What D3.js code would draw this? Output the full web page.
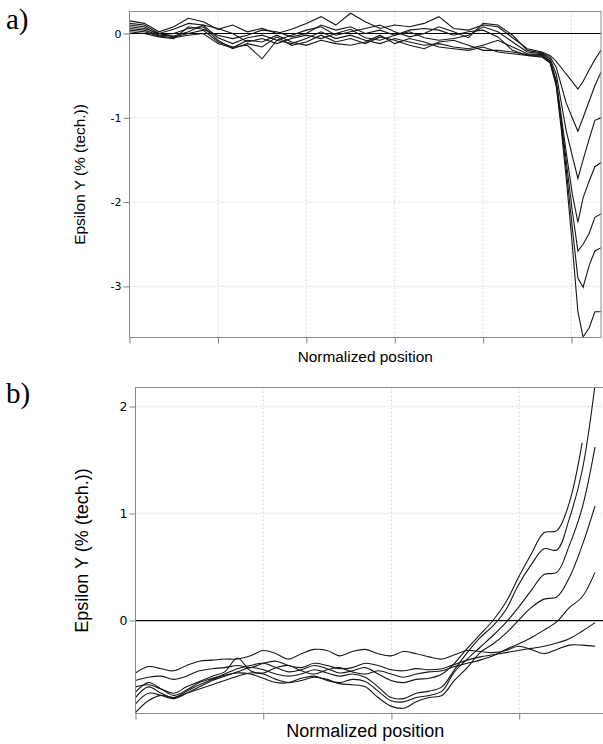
<!DOCTYPE html>
<meta charset="utf-8">
<style>
body { margin: 0; background: #fff; }
svg { display: block; }
.axis text { font-family: "DejaVu Sans", sans-serif; fill: #000; }
.axis line { stroke: #808080; }
.axis path { display: none; }
.grid line { stroke: #d8d8d8; stroke-dasharray: 2,2; }
.frame { fill: none; stroke: #8a8a8a; }
.zero { stroke: #000; stroke-width: 1.2px; }
.curve { fill: none; stroke: #161616; stroke-width: 1.1px; }
.label { font-family: "Liberation Sans", Arial, sans-serif; fill: #000; text-anchor: middle; }
.tag { font-family: "Liberation Serif", "Times New Roman", serif; font-size: 29px; fill: #000; }
</style>

<svg width="603" height="744"></svg>
<script src="https://d3js.org/d3.v7.min.js"></script>

<script>
// ---- panel a data ----
// sample positions: coarse along the flat part, finer where the curves drop
var posA = [0, 0.03125, 0.0625, 0.09375, 0.125, 0.15625, 0.1875, 0.21875, 0.25, 0.28125,
            0.3125, 0.34375, 0.375, 0.40625, 0.4375, 0.46875, 0.5, 0.53125, 0.5625, 0.59375,
            0.625, 0.65625, 0.6875, 0.71875, 0.75, 0.78125, 0.8125, 0.84375, 0.875,
            0.892, 0.905, 0.915, 0.926, 0.939, 0.951, 0.962, 0.975, 0.987, 1];
var ticksXA = [0, 0.1875, 0.375, 0.5625, 0.75, 0.9375];
var ticksYA = [0, -1, -2, -3];

var a1 = [0.15, 0.12, 0.02, 0.08, 0.18, 0.14, 0.05, 0.10, 0.02, 0.06, 0.00, 0.05, 0.12, 0.20, 0.10, 0.24, 0.14, 0.06, 0.10, 0.08, 0.12, 0.20, 0.06, 0.04, 0.10, 0.08, -0.05, -0.18, -0.22,
          -0.26, -0.33, -0.40, -0.48, -0.57, -0.66, -0.57, -0.43, -0.31, -0.20];
var a2 = [0.12, 0.10, 0.00, 0.05, 0.12, 0.10, -0.05, -0.12, -0.05, -0.02, -0.08, -0.02, 0.04, 0.08, -0.02, 0.02, 0.06, 0.10, 0.02, -0.04, 0.00, 0.08, 0.02, -0.05, 0.12, 0.10, -0.02, -0.20, -0.23,
          -0.28, -0.40, -0.60, -0.82, -1.00, -1.16, -1.00, -0.80, -0.62, -0.46];
var a3 = [0.10, 0.08, -0.02, -0.03, 0.02, 0.10, 0.06, 0.00, -0.10, -0.06, -0.12, -0.06, -0.02, -0.06, 0.00, 0.05, -0.05, -0.08, -0.02, 0.02, -0.05, -0.08, -0.06, -0.02, 0.08, 0.02, -0.10, -0.22, -0.24,
          -0.30, -0.48, -0.80, -1.15, -1.45, -1.72, -1.50, -1.25, -1.03, -1.00];
var a4 = [0.08, 0.06, 0.00, -0.04, 0.00, 0.04, -0.10, -0.16, -0.14, -0.30, -0.08, -0.12, -0.06, 0.02, -0.06, -0.02, -0.08, -0.12, -0.06, -0.10, -0.14, -0.12, -0.16, -0.18, -0.14, -0.08, -0.16, -0.24, -0.25,
          -0.32, -0.55, -0.95, -1.40, -1.90, -2.24, -1.95, -1.75, -1.58, -1.53];
var a5 = [0.06, 0.04, -0.02, 0.00, 0.06, 0.08, -0.08, -0.18, -0.12, -0.16, -0.04, -0.14, -0.10, -0.02, -0.10, -0.06, -0.12, -0.04, -0.08, -0.14, -0.18, -0.10, -0.08, -0.14, -0.20, -0.20, -0.22, -0.25, -0.26,
          -0.33, -0.58, -1.00, -1.50, -2.10, -2.58, -2.50, -2.37, -2.18, -2.14];
var a6 = [0.04, 0.02, -0.03, -0.05, -0.02, 0.00, -0.12, -0.17, -0.08, -0.10, -0.02, -0.10, -0.14, -0.08, -0.12, -0.14, -0.10, -0.02, -0.12, -0.06, -0.10, -0.16, -0.18, -0.20, -0.16, -0.22, -0.24, -0.26, -0.27,
          -0.34, -0.60, -1.05, -1.60, -2.30, -2.90, -3.01, -2.75, -2.58, -2.54];
var a7 = [0.02, 0.00, -0.04, -0.06, 0.08, 0.05, -0.02, -0.06, -0.02, 0.04, 0.02, -0.04, 0.00, 0.10, 0.04, 0.08, 0.00, 0.04, -0.02, 0.04, 0.06, 0.04, -0.02, 0.02, 0.04, -0.04, -0.20, -0.26, -0.28,
          -0.35, -0.62, -1.10, -1.70, -2.50, -3.30, -3.60, -3.49, -3.30, -3.30];

// ---- panel b data ----
var posB = [0, 0.028, 0.056, 0.083, 0.111, 0.139, 0.167, 0.194, 0.222, 0.25, 0.278, 0.306, 0.333,
            0.361, 0.389, 0.417, 0.444, 0.472, 0.5, 0.528, 0.556, 0.583, 0.611, 0.639, 0.667,
            0.694, 0.722, 0.75, 0.778, 0.806, 0.833, 0.861, 0.889, 0.917, 0.944, 0.972, 1];
var ticksXB = [0, 0.278, 0.557, 0.835];
var ticksYB = [0, 1, 2];

var b1 = [-0.72, -0.62, -0.68, -0.72, -0.66, -0.60, -0.55, -0.50, -0.45, -0.42, -0.40, -0.44, -0.48, -0.46, -0.42, -0.45, -0.49, -0.47, -0.44, -0.50, -0.56, -0.58, -0.55, -0.54, -0.50, -0.40, -0.26, -0.13, 0.00, 0.17, 0.40, 0.62, 0.82, 0.84, 1.10, 1.66];
var b2 = [-0.78, -0.68, -0.70, -0.73, -0.68, -0.62, -0.56, -0.52, -0.48, -0.44, -0.46, -0.50, -0.52, -0.50, -0.46, -0.49, -0.52, -0.50, -0.53, -0.62, -0.72, -0.73, -0.68, -0.66, -0.62, -0.46, -0.30, -0.16, -0.05, 0.10, 0.33, 0.52, 0.67, 0.66, 0.95, 1.40, 2.20];
var b3 = [-0.67, -0.58, -0.64, -0.70, -0.65, -0.58, -0.54, -0.51, -0.49, -0.50, -0.54, -0.58, -0.58, -0.54, -0.52, -0.56, -0.58, -0.55, -0.57, -0.66, -0.75, -0.76, -0.72, -0.70, -0.66, -0.48, -0.36, -0.25, -0.14, -0.02, 0.12, 0.28, 0.43, 0.45, 0.70, 1.05, 1.62];
var b4 = [-0.86, -0.75, -0.70, -0.72, -0.68, -0.64, -0.60, -0.56, -0.52, -0.49, -0.50, -0.55, -0.58, -0.56, -0.53, -0.55, -0.59, -0.60, -0.62, -0.72, -0.80, -0.82, -0.76, -0.72, -0.70, -0.56, -0.44, -0.30, -0.22, -0.12, 0.00, 0.12, 0.20, 0.22, 0.40, 0.70, 1.07];
var b5 = [-0.62, -0.60, -0.64, -0.68, -0.62, -0.57, -0.52, -0.48, -0.35, -0.47, -0.49, -0.44, -0.42, -0.47, -0.50, -0.46, -0.44, -0.48, -0.50, -0.47, -0.50, -0.53, -0.50, -0.48, -0.47, -0.43, -0.40, -0.37, -0.33, -0.27, -0.22, -0.16, -0.09, -0.01, 0.12, 0.22, 0.45];
var b6 = [-0.56, -0.53, -0.52, -0.55, -0.52, -0.47, -0.45, -0.44, -0.42, -0.44, -0.40, -0.38, -0.42, -0.44, -0.40, -0.42, -0.45, -0.44, -0.40, -0.42, -0.46, -0.47, -0.45, -0.46, -0.45, -0.41, -0.37, -0.34, -0.32, -0.30, -0.28, -0.26, -0.24, -0.21, -0.17, -0.10, -0.02];
var b7 = [-0.49, -0.43, -0.45, -0.47, -0.42, -0.38, -0.37, -0.36, -0.36, -0.33, -0.28, -0.31, -0.36, -0.31, -0.27, -0.28, -0.33, -0.29, -0.27, -0.31, -0.33, -0.29, -0.31, -0.34, -0.36, -0.32, -0.28, -0.29, -0.30, -0.28, -0.24, -0.27, -0.31, -0.27, -0.23, -0.23, -0.24];

var svg = d3.select("svg");

function panel(p) {
  var x = d3.scaleLinear().domain([0, 1]).range([p.left, p.dataRight]),
      y = d3.scaleLinear().domain(p.yDomain).range([p.bottom, p.top]),
      right = x(p.xMax),
      g = svg.append("g");

  g.append("clipPath").attr("id", p.id + "clip")
    .append("rect")
      .attr("x", p.left).attr("y", p.top)
      .attr("width", right - p.left).attr("height", p.bottom - p.top);

  // dotted grid
  var grid = g.append("g").attr("class", "grid");
  grid.selectAll(".gx").data(p.ticksX.slice(1)).enter().append("line")
      .attr("x1", x).attr("x2", x).attr("y1", p.top).attr("y2", p.bottom);
  grid.selectAll(".gy").data(p.ticksY).enter().append("line")
      .attr("x1", p.left).attr("x2", right).attr("y1", y).attr("y2", y);

  g.append("g")
      .attr("class", "axis")
      .attr("transform", "translate(" + p.left + ",0)")
      .style("font-size", p.tickFont + "px")
      .call(d3.axisLeft(y).tickValues(p.ticksY).tickSize(6).tickPadding(2)
        .tickFormat(function(d) { return String(d); }));

  g.append("g")
      .attr("class", "axis")
      .attr("transform", "translate(0," + p.bottom + ")")
      .call(d3.axisBottom(x).tickValues(p.ticksX).tickSize(6).tickFormat(""));

  g.append("line")
      .attr("class", "zero")
      .attr("x1", p.left).attr("x2", right)
      .attr("y1", y(0)).attr("y2", y(0));

  var line = d3.line()
      .x(function(d) { return x(d[0]); })
      .y(function(d) { return y(d[1]); })
      .curve(p.curve);

  g.append("g")
      .attr("clip-path", "url(#" + p.id + "clip)")
    .selectAll(".curve")
      .data(p.series)
    .enter().append("path")
      .attr("class", "curve")
      .attr("d", function(s) { return line(s.map(function(v, i) { return [p.pos[i], v]; })); });

  g.append("rect")
      .attr("class", "frame")
      .attr("x", p.left).attr("y", p.top)
      .attr("width", right - p.left).attr("height", p.bottom - p.top);

  g.append("text")
      .attr("class", "label")
      .style("font-size", p.labelFont + "px")
      .attr("x", (p.left + p.dataRight) / 2)
      .attr("y", p.xLabelY)
      .text("Normalized position");

  g.append("text")
      .attr("class", "label")
      .style("font-size", p.labelFont + "px")
      .attr("transform", "translate(" + p.yLabelX + "," + (p.top + p.bottom) / 2 + ") rotate(-90)")
      .text("Epsilon Y (% (tech.))");

  g.append("text")
      .attr("class", "tag")
      .attr("x", 6)
      .attr("y", p.tagY)
      .text(p.tag);
}

panel({
  id: "a", tag: "a)", tagY: 29,
  left: 129.5, dataRight: 601, xMax: 1, top: 11.5, bottom: 337.5,
  yDomain: [-3.606, 0.261],
  pos: posA, series: [a1, a2, a3, a4, a5, a6, a7],
  ticksX: ticksXA, ticksY: ticksYA,
  tickFont: 11, labelFont: 15.4, xLabelY: 362, yLabelX: 85,
  curve: d3.curveLinear
});

panel({
  id: "b", tag: "b)", tagY: 403,
  left: 135.5, dataRight: 595, xMax: 1.04, top: 387.5, bottom: 713.5,
  yDomain: [-0.869, 2.178],
  pos: posB, series: [b1, b2, b3, b4, b5, b6, b7],
  ticksX: ticksXB, ticksY: ticksYB,
  tickFont: 12.5, labelFont: 18, xLabelY: 737, yLabelX: 88,
  curve: d3.curveCatmullRom
});
</script>
